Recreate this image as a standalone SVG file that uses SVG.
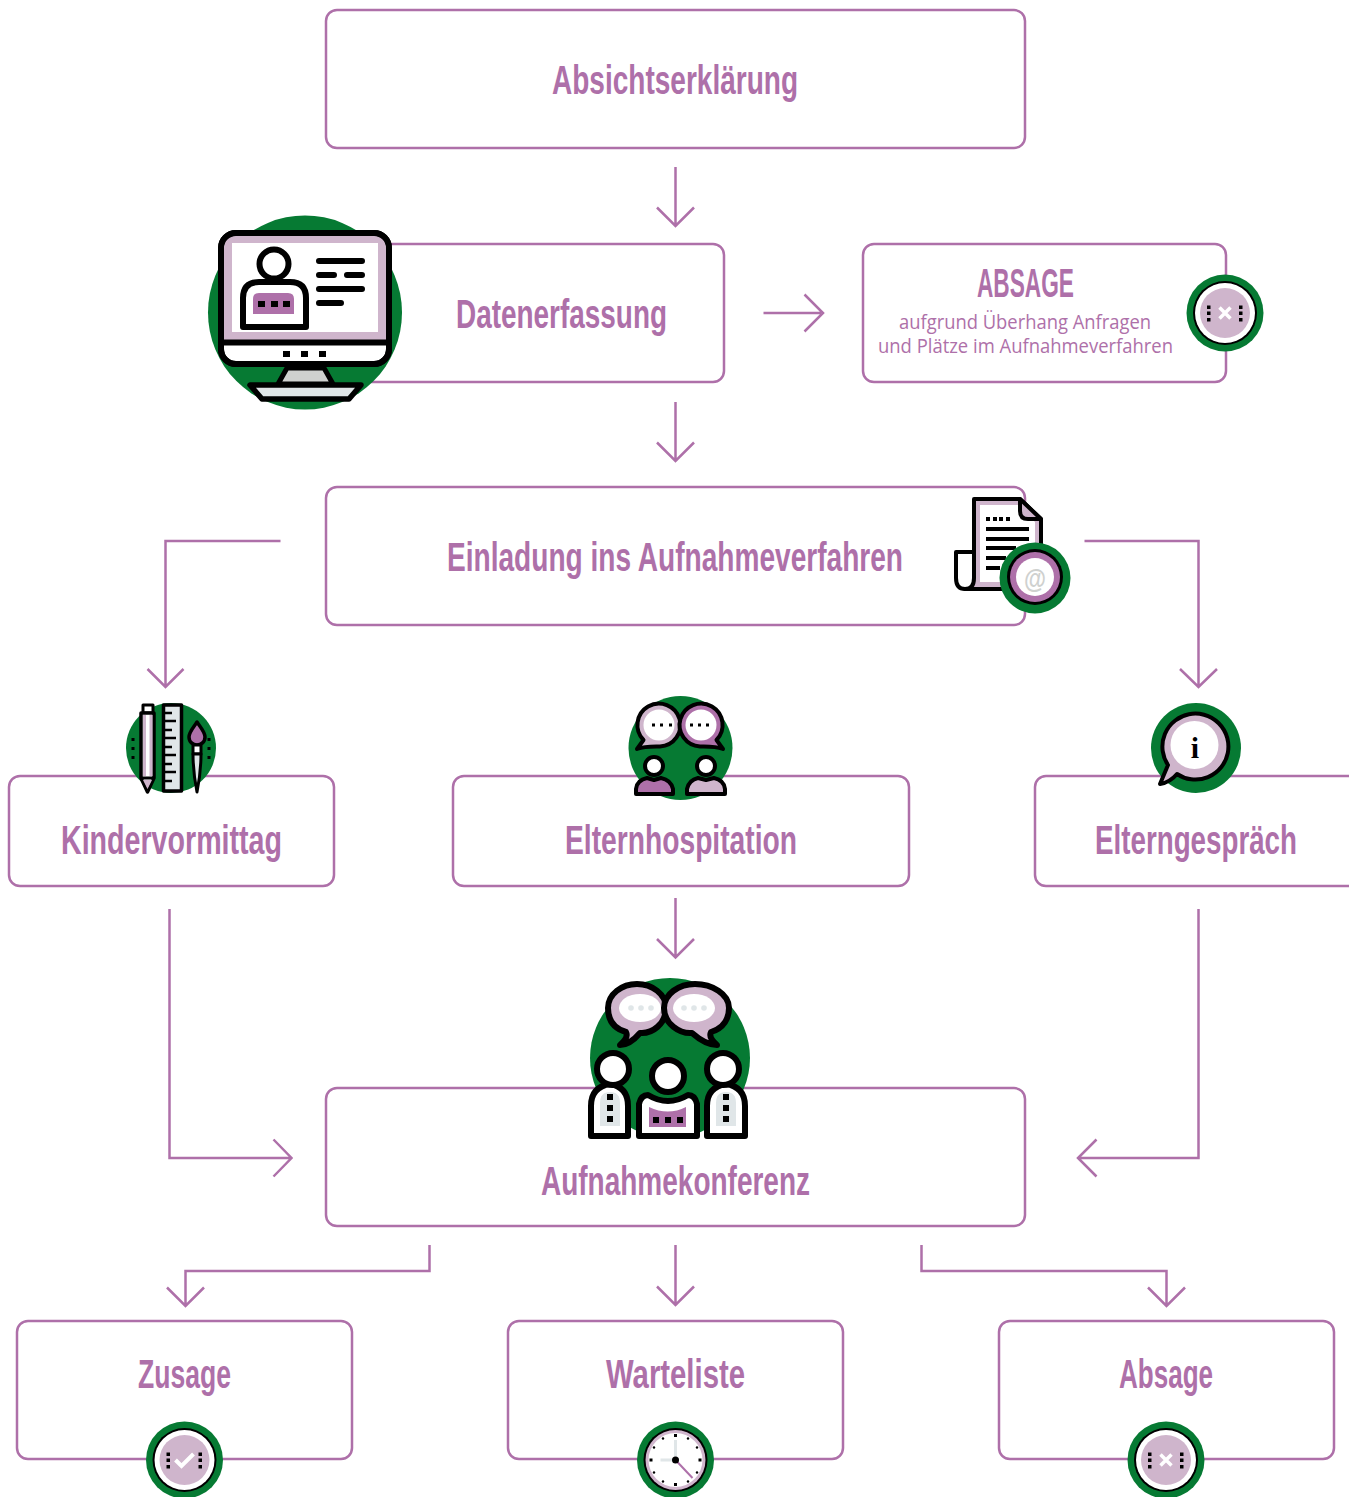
<svg xmlns="http://www.w3.org/2000/svg" width="1349" height="1497" viewBox="0 0 1349 1497">
<style>
.box{fill:#fff;stroke:#ae70a9;stroke-width:2.5}
.con{fill:none;stroke:#ae70a9;stroke-width:2.5}
.t{font-family:"Liberation Sans Narrow","Liberation Sans",sans-serif;font-size:41px;font-weight:700;fill:#ae70a9}
.s{font-family:"Open Sans",sans-serif;font-size:19.5px;fill:#ae70a9}
.g{fill:#067a33}
.k{stroke:#000;stroke-width:6;stroke-linejoin:round;stroke-linecap:round}
.k4{stroke:#000;stroke-width:4;stroke-linejoin:round;stroke-linecap:round}
.w{fill:#fff}.l{fill:#cfb5cc}.p{fill:#ae70a9}.gr{fill:#e0e6e8}.n{fill:none}.b{fill:#000}
</style>
<defs>
<g id="badge">
<circle r="38.5" class="g"/><circle r="32" class="b"/><circle r="30" class="w"/><circle r="25" class="l"/>
<g class="b"><rect x="-18" y="-7.5" width="3.5" height="3.5"/><rect x="-18" y="-1.5" width="3.5" height="3.5"/><rect x="-18" y="5" width="3.5" height="3.5"/><rect x="14" y="-7.5" width="3.5" height="3.5"/><rect x="14" y="-1.5" width="3.5" height="3.5"/><rect x="14" y="5" width="3.5" height="3.5"/></g>
</g>
<path id="x" d="M-5.5,-5.5L5.5,5.5M5.5,-5.5L-5.5,5.5" stroke="#fff" stroke-width="3.5" fill="none"/>
</defs>
<rect width="1349" height="1497" fill="#fff"/>
<g id="connectors" class="con" transform="translate(0.5,0)">
<path d="M675,167V225M656.500,207.500L675,226L693.500,207.500"/>
<path d="M763,313H820.500M804,294.500L822.500,313L804,331.500"/>
<path d="M675,402V460M656.500,442.500L675,461L693.500,442.500"/>
<path d="M280,541H165V686M147,669L165,687L183,669"/>
<path d="M1084,541H1198V686M1179.500,669L1198,687L1216.500,669"/>
<path d="M675,898V956M656.500,939L675,957.500L693.500,939"/>
<path d="M169,909V1158H290M273,1139.500L291,1158L273,1176.500"/>
<path d="M1198,909V1158H1079M1096,1139.500L1077.500,1158L1096,1176.500"/>
<path d="M429,1245V1271H185V1305M166.500,1287.500L185,1306L203.500,1287.500"/>
<path d="M675,1245V1304M656.500,1286.500L675,1305L693.500,1286.500"/>
<path d="M921,1245V1271H1166V1305M1147.500,1287.500L1166,1306L1184.500,1287.500"/>
</g>
<g id="n-absicht"><rect class="box" x="326" y="10" width="699" height="138" rx="11"/><text class="t" x="552" y="94" textLength="246" lengthAdjust="spacingAndGlyphs">Absichtserklärung</text></g>
<g id="n-daten"><rect class="box" x="326" y="244" width="398" height="138" rx="11"/><text class="t" x="456" y="328" textLength="211" lengthAdjust="spacingAndGlyphs">Datenerfassung</text>
<g id="icon-monitor">
<circle cx="305" cy="312.500" r="97" class="g"/>
<path style="fill:#cfd1cf;stroke:#000;stroke-width:5;stroke-linejoin:round" d="M287,368H324L333,384H278Z"/>
<path style="fill:#e0e6e8;stroke:#000;stroke-width:5.500;stroke-linejoin:round" d="M250,385H361L349,399H262Z"/>
<rect x="221" y="233" width="168" height="131" rx="15" class="w k"/>
<path class="l" d="M224,340V248Q224,236 236,236H374Q386,236 386,248V340Z"/>
<rect x="232" y="243" width="146" height="89" class="w"/>
<path class="k n" d="M221,342.500H389"/>
<rect x="221" y="233" width="168" height="131" rx="15" class="n k"/>
<g class="b"><rect x="283" y="351" width="7" height="6"/><rect x="301" y="351" width="7" height="6"/><rect x="319" y="351" width="7" height="6"/></g>
<path class="k w" d="M243,327V298Q243,282 259,282H290Q306,282 306,298V327Z"/>
<circle cx="274" cy="264" r="14.500" class="k w"/>
<path class="p" d="M253,314V299Q253,293 259,293H288Q294,293 294,299V314Z"/>
<g class="b"><rect x="258" y="301" width="7" height="6"/><rect x="271" y="301" width="7" height="6"/><rect x="283" y="301" width="7" height="6"/></g>
<path class="k n" d="M319,261H362M319,275H334M347,275H362M319,289H362M319,303H341"/>
</g></g>
<g id="n-absage-top"><rect class="box" x="863" y="244" width="363" height="138" rx="11"/>
<text class="t" x="977" y="297" textLength="97" lengthAdjust="spacingAndGlyphs">ABSAGE</text>
<text class="s" x="899" y="329" textLength="252" lengthAdjust="spacingAndGlyphs">aufgrund Überhang Anfragen</text>
<text class="s" x="878" y="353" textLength="295" lengthAdjust="spacingAndGlyphs">und Plätze im Aufnahmeverfahren</text>
<g transform="translate(1225,313)"><use href="#badge"/><use href="#x"/></g></g>
<g id="n-einladung"><rect class="box" x="326" y="487" width="699" height="138" rx="11"/><text class="t" x="447" y="571" textLength="456" lengthAdjust="spacingAndGlyphs">Einladung ins Aufnahmeverfahren</text>
<g id="icon-doc">
<path class="w k4" d="M974,552H956V578Q956,589 965,589H975Z"/>
<path class="l k4" d="M974,499H1020L1041,519V589H965Q974,589 974,578Z"/>
<path class="w" d="M980,505H1018L1035,522V582H980Z"/>
<path class="l k4" d="M1020,499V511Q1020,519 1028,519H1041Z"/>
<g class="b"><rect x="986" y="517" width="4" height="4"/><rect x="993" y="517" width="4" height="4"/><rect x="999" y="517" width="4" height="4"/><rect x="1006" y="517" width="4" height="4"/></g>
<path d="M986,529H1029M986,539H1029M986,548H1016M986,558H1006M986,568H1000" stroke="#000" stroke-width="4" fill="none"/>
<circle cx="1035" cy="578" r="35.500" class="g"/><circle cx="1035" cy="577" r="28" class="b"/><circle cx="1035" cy="577" r="25" class="p"/><circle cx="1035" cy="577" r="19" class="w"/>
<text x="1024" y="588" textLength="22" lengthAdjust="spacingAndGlyphs" style="font-family:'Liberation Sans',sans-serif;font-size:28px;font-weight:700;fill:#cfd1cf">@</text>
</g></g>
<g id="n-kinder"><rect class="box" x="9" y="776" width="325" height="110" rx="11"/><text class="t" x="61" y="854" textLength="221" lengthAdjust="spacingAndGlyphs">Kindervormittag</text>
<g id="icon-tools">
<circle cx="171" cy="748" r="45" class="g"/>
<g class="b"><rect x="131.500" y="738" width="3" height="3"/><rect x="131.500" y="747" width="3" height="3"/><rect x="131.500" y="756" width="3" height="3"/><rect x="207.500" y="738" width="3" height="3"/><rect x="207.500" y="747" width="3" height="3"/><rect x="207.500" y="756" width="3" height="3"/></g>
<rect x="143" y="705" width="10" height="8" class="w k4" style="stroke-width:3"/>
<path class="w k4" style="stroke-width:3.500" d="M141,713H154V778L147.500,792L141,778Z"/>
<path class="l" d="M143,715H146V776H143ZM149.500,715H152.500V776H149.500ZM143,780H152L147.500,789Z"/>
<path d="M141,778H154" stroke="#000" stroke-width="3"/>
<rect x="163.500" y="705" width="18" height="86" class="gr k4" style="stroke-width:3.500"/>
<path d="M164,713H172M164,721H176M164,730H172M164,738H176M164,747H172M164,755H176M164,764H172M164,772H176M164,781H172" stroke="#000" stroke-width="2.500"/>
<path class="p k4" style="stroke-width:3.500" d="M197,722C193,728 189,732 189,737C189,742 193,745 197,745C201,745 205,742 205,737C205,732 201,728 197,722Z"/>
<path class="w k4" style="stroke-width:3" d="M193,745H201V754H193Z"/>
<path class="gr k4" style="stroke-width:3" d="M193,754H201C201,768 199,782 197,792C195,782 193,768 193,754Z"/>
</g></g>
<g id="n-eltern"><rect class="box" x="453" y="776" width="456" height="110" rx="11"/><text class="t" x="565" y="854" textLength="232" lengthAdjust="spacingAndGlyphs">Elternhospitation</text>
<g id="icon-talk">
<circle cx="680.500" cy="748" r="52" class="g"/>
<path class="l k4" d="M637,749L643.500,740A21.500,21.500 0 1 1 660,746.500C653,746.500 645,746 637,749Z"/>
<circle cx="659" cy="725" r="15.500" class="w"/>
<path class="p k4" d="M723,749L716.500,740A21.500,21.500 0 1 0 700,746.500C707,746.500 715,746 723,749Z"/>
<circle cx="701" cy="725" r="15.500" class="w"/>
<g class="b"><rect x="652" y="723.500" width="3" height="3"/><rect x="660" y="723.500" width="3" height="3"/><rect x="669" y="723.500" width="3" height="3"/><rect x="690" y="723.500" width="3" height="3"/><rect x="698" y="723.500" width="3" height="3"/><rect x="706" y="723.500" width="3" height="3"/></g>
<circle cx="654" cy="766" r="9" class="w k4"/><circle cx="706" cy="766" r="9" class="w k4"/>
<path class="p k4" d="M636,794V789Q637,780 647,778L654,780L661,778Q671,780 673,789V794Z"/>
<path class="l k4" d="M687,794V789Q689,780 698,778L706,780L714,778Q724,780 725,789V794Z"/>
</g></g>
<g id="n-elterng"><rect class="box" x="1035" y="776" width="330" height="110" rx="11"/><text class="t" x="1095" y="854" textLength="202" lengthAdjust="spacingAndGlyphs">Elterngespräch</text>
<g id="icon-info">
<circle cx="1196" cy="748" r="45" class="g"/>
<path class="l k4" d="M1160,784L1168,765A33,33 0 1 1 1177,774C1172,780 1166,783 1160,784Z"/>
<circle cx="1194.500" cy="745" r="24" class="w"/>
<text x="1195" y="758" text-anchor="middle" style="font-family:'Liberation Serif',serif;font-size:30px;font-weight:700;fill:#000">i</text>
</g></g>
<g id="n-konferenz"><rect class="box" x="326" y="1088" width="699" height="138" rx="11"/><text class="t" x="541" y="1195" textLength="269" lengthAdjust="spacingAndGlyphs">Aufnahmekonferenz</text>
<g id="icon-konf">
<circle cx="670" cy="1058" r="80" class="g"/>
<path class="l k" d="M620,1045C626,1040 628,1036 626,1032C612,1028 608,1018 608,1008C608,994 622,984 637,984C652,984 666,994 666,1008C666,1024 652,1034 640,1033C634,1040 628,1045 620,1045Z"/>
<ellipse cx="640" cy="1008" rx="21" ry="14" class="w"/>
<path class="l k" d="M717,1045C711,1040 709,1036 711,1032C724,1028 729,1018 729,1008C729,994 712,984 695,984C679,984 664,994 664,1008C664,1024 680,1034 692,1033C700,1040 708,1045 717,1045Z"/>
<ellipse cx="694" cy="1008" rx="21" ry="14" class="w"/>
<g class="gr"><circle cx="631" cy="1008" r="2.800"/><circle cx="641" cy="1008" r="2.800"/><circle cx="651" cy="1008" r="2.800"/><circle cx="684" cy="1008" r="2.800"/><circle cx="694" cy="1008" r="2.800"/><circle cx="704" cy="1008" r="2.800"/></g>
<path class="w k" d="M591,1136V1106Q591,1087 610,1084Q628,1087 628,1106V1136Z"/>
<path class="w k" d="M707,1136V1106Q707,1087 726,1084Q745,1087 745,1106V1136Z"/>
<circle cx="613" cy="1069" r="16" class="w k"/><circle cx="723" cy="1069" r="16" class="w k"/>
<path class="gr" d="M600,1126V1103Q600,1092 610,1092Q620,1092 620,1103V1126Z"/><path class="gr" d="M716,1126V1103Q716,1092 726,1092Q736,1092 736,1103V1126Z"/>
<g class="b"><rect x="607" y="1094" width="6" height="6"/><rect x="607" y="1105" width="6" height="6"/><rect x="607" y="1116" width="6" height="6"/><rect x="723" y="1094" width="6" height="6"/><rect x="723" y="1105" width="6" height="6"/><rect x="723" y="1116" width="6" height="6"/></g>
<path class="w k" d="M639,1136V1104Q641,1095 648,1095Q668,1107 688,1095Q695,1095 697,1104V1136Z"/>
<circle cx="668" cy="1076" r="16" class="w k"/>
<path class="p" d="M649,1107Q668,1116 686,1107V1127H649Z"/>
<g class="b"><rect x="653" y="1117" width="6" height="6"/><rect x="665" y="1117" width="6" height="6"/><rect x="677" y="1117" width="6" height="6"/></g>
</g></g>
<g id="n-zusage"><rect class="box" x="17" y="1321" width="335" height="138" rx="11"/><text class="t" x="138" y="1388" textLength="93" lengthAdjust="spacingAndGlyphs">Zusage</text>
<g transform="translate(184.500,1460)"><use href="#badge"/><path d="M-9,0L-3,6L9,-6" stroke="#fff" stroke-width="4" fill="none"/></g></g>
<g id="n-warteliste"><rect class="box" x="508" y="1321" width="335" height="138" rx="11"/><text class="t" x="606" y="1388" textLength="139" lengthAdjust="spacingAndGlyphs">Warteliste</text>
<g id="icon-clock" transform="translate(675.500,1460)">
<circle r="38.500" class="g"/><circle r="32" class="b"/><circle r="30" class="l"/><circle r="27" class="w"/>
<path d="M0,0V-20M0,0H-15" stroke="#e0e6e8" stroke-width="3" fill="none"/>
<path d="M0,0L17,18" stroke="#ae70a9" stroke-width="2" fill="none"/>
<circle r="3.500" class="b"/>
<g class="b"><rect x="-1.500" y="-26" width="3" height="3"/><rect x="-1.500" y="23" width="3" height="3"/><rect x="-26" y="-1.500" width="3" height="3"/><rect x="23" y="-1.500" width="3" height="3"/>
<circle cx="12.500" cy="-21.500" r="1.200"/><circle cx="21.500" cy="-12.500" r="1.200"/><circle cx="21.500" cy="12.500" r="1.200"/><circle cx="12.500" cy="21.500" r="1.200"/><circle cx="-12.500" cy="21.500" r="1.200"/><circle cx="-21.500" cy="12.500" r="1.200"/><circle cx="-21.500" cy="-12.500" r="1.200"/><circle cx="-12.500" cy="-21.500" r="1.200"/></g>
</g></g>
<g id="n-absage"><rect class="box" x="999" y="1321" width="335" height="138" rx="11"/><text class="t" x="1119" y="1388" textLength="94" lengthAdjust="spacingAndGlyphs">Absage</text>
<g transform="translate(1166,1460)"><use href="#badge"/><use href="#x"/></g></g>
</svg>
